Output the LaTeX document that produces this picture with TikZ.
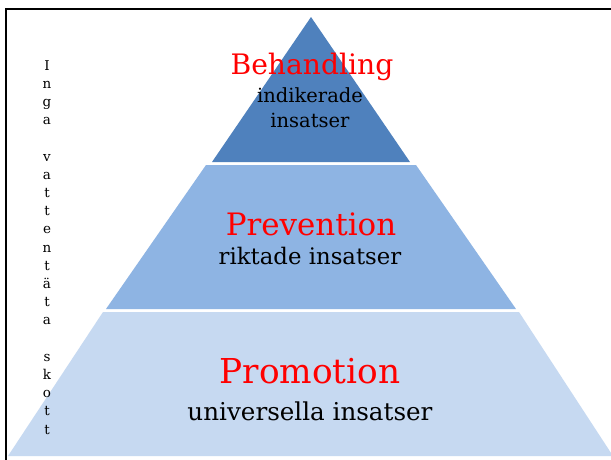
\documentclass[tikz,border=0pt]{standalone}
\usepackage{fontspec}
\setmainfont{DejaVu Serif}
\definecolor{topblue}{HTML}{4F81BD}
\definecolor{midblue}{HTML}{8EB4E3}
\definecolor{lowblue}{HTML}{C6D9F1}
\tikzset{
  layer/.style={draw=white,line width=2.5pt,line join=miter},
  title/.style={text=red,anchor=base,inner sep=0pt},
  sub/.style={text=black,anchor=base,inner sep=0pt}
}
\begin{document}
\begin{tikzpicture}[x=1pt,y=-1pt]
    \useasboundingbox (0,0) rectangle (611,459);
    \fill[white] (0,0) rectangle (611,459);
    % pyramid levels
    \fill[lowblue] (103,312) -- (519,312) -- (613,456) -- (8,456) -- cycle;
    \fill[midblue] (206,165) -- (416,165) -- (516,309) -- (106,309) -- cycle;
    \fill[topblue] (311,17) -- (410,162) -- (212,162) -- cycle;
    % frame
    \draw[line width=2.5pt] (6,470) -- (6,9) -- (620,9);
    % texts
    \node[title,font=\fontsize{28.2}{34}\selectfont] (behandling) at (312,74) {Behandling};
    \node[sub,font=\fontsize{19.5}{24}\selectfont] (indikerade) at (310,102) {indikerade};
    \node[sub,font=\fontsize{19.5}{24}\selectfont] (insatser) at (310,127) {insatser};
    \node[title,font=\fontsize{30.9}{36}\selectfont] (prevention) at (311,235) {Prevention};
    \node[sub,font=\fontsize{22.8}{28}\selectfont] (riktade) at (310,264) {riktade insatser};
    \node[title,font=\fontsize{34.3}{40}\selectfont] (promotion) at (310,383) {Promotion};
    \node[sub,font=\fontsize{24.6}{30}\selectfont] (universella) at (310,420) {universella insatser};
    \node[align=center,anchor=north,inner sep=0pt,font=\fontsize{13.5}{18.2}\selectfont] (vattentat) at (47,60)
      {I\\n\\g\\a\\~\\v\\a\\t\\t\\e\\n\\t\\ä\\t\\a\\~\\s\\k\\o\\t\\t};
\end{tikzpicture}
\end{document}
